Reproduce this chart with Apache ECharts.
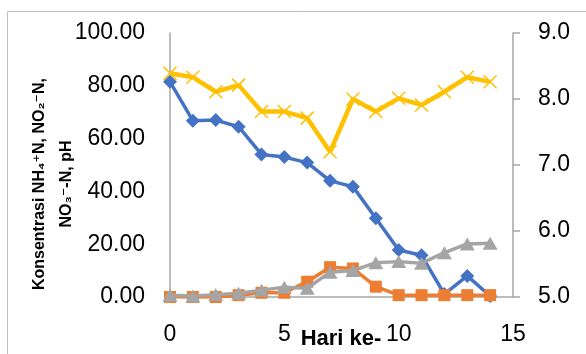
<!DOCTYPE html>
<html>
<head>
<meta charset="utf-8">
<script src="https://cdn.jsdelivr.net/npm/echarts@6/dist/echarts.min.js"></script>
<style>
html,body{margin:0;padding:0;background:#fff;}
#c{width:586px;height:354px;}
</style>
</head>
<body>
<div id="c"></div>
<script>
var days = [0, 1, 2, 3, 4, 5, 6, 7, 8, 9, 10, 11, 12, 13, 14];
var nh4 = [81.5, 66.8, 67.0, 64.5, 54.0, 53.0, 50.9, 44.0, 41.8, 29.8, 17.8, 15.8, 1.1, 8.0, 0.4];
var no2 = [0.0, 0.0, 0.0, 0.7, 1.6, 1.6, 5.8, 11.3, 10.8, 3.9, 0.7, 0.7, 0.7, 0.7, 0.7];
var no3 = [0.7, 0.4, 0.9, 1.4, 2.6, 3.7, 3.3, 9.4, 10.0, 13.0, 13.4, 12.8, 16.8, 20.1, 20.4];
var ph = [8.39, 8.33, 8.11, 8.21, 7.81, 7.81, 7.71, 7.2, 8.0, 7.81, 8.01, 7.91, 8.11, 8.33, 8.26];
var leftTicks = [0, 20, 40, 60, 80, 100];
var rightTicks = [5, 6, 7, 8, 9];
var xTicks = [0, 5, 10, 15];

function pairs(xs, ys) { return xs.map(function (x, i) { return [x, ys[i]]; }); }

var FONT = 'Liberation Sans, DejaVu Sans, sans-serif';
var chart = echarts.init(document.getElementById('c'), null, {renderer: 'canvas'});
var axisGray = '#A6A6A6';
chart.setOption({
  animation: false,
  backgroundColor: '#fff',
  grid: {left: 170, right: 73, top: 33, bottom: 57, containLabel: false, outerBoundsMode: 'none'},
  graphic: [
    {type: 'rect', shape: {x: 7.5, y: 11.5, width: 600, height: 400}, style: {fill: 'none', stroke: '#BFBFBF', lineWidth: 1}, z: -1},
    {type: 'text', x: 40, y: 184, rotation: Math.PI / 2,
     style: {text: 'Konsentrasi NH₄⁺N, NO₂⁻N,', font: 'bold 16px ' + FONT, fill: '#000', textAlign: 'center', textVerticalAlign: 'middle'}},
    {type: 'text', x: 67, y: 184, rotation: Math.PI / 2,
     style: {text: 'NO₃⁻-N, pH', font: 'bold 16px ' + FONT, fill: '#000', textAlign: 'center', textVerticalAlign: 'middle'}},
    {type: 'text', x: 341, y: 339, z: 10,
     style: {text: 'Hari ke-', font: 'bold 22px ' + FONT, fill: '#000', textAlign: 'center', textVerticalAlign: 'middle'}}
  ],
  xAxis: {
    type: 'value', min: xTicks[0], max: xTicks[xTicks.length - 1], interval: 5,
    axisLine: {lineStyle: {color: axisGray, width: 1.5}},
    axisTick: {show: false},
    splitLine: {show: false},
    axisLabel: {fontFamily: FONT, fontSize: 23, color: '#000', margin: 26}
  },
  yAxis: [
    {
      type: 'value', min: leftTicks[0], max: leftTicks[leftTicks.length - 1], interval: 20,
      axisLine: {show: true, lineStyle: {color: axisGray, width: 1.5}},
      axisTick: {show: false},
      splitLine: {show: false},
      axisLabel: {fontFamily: FONT, fontSize: 23, color: '#000', margin: 25,
        formatter: function (v) { return v.toFixed(2); }}
    },
    {
      type: 'value', position: 'right', min: rightTicks[0], max: rightTicks[rightTicks.length - 1], interval: 1,
      axisLine: {show: true, lineStyle: {color: axisGray, width: 1.5}},
      axisTick: {show: true, inside: false, length: 7, lineStyle: {color: axisGray, width: 1.5}},
      splitLine: {show: false},
      axisLabel: {fontFamily: FONT, fontSize: 23, color: '#000', margin: 25,
        formatter: function (v) { return v.toFixed(1); }}
    }
  ],
  series: [
    {type: 'line', name: 'NH4', yAxisIndex: 0, data: pairs(days, nh4),
     symbol: 'diamond', symbolSize: 14, lineStyle: {color: '#4472C4', width: 3.5},
     itemStyle: {color: '#4472C4'}, z: 2},
    {type: 'line', name: 'NO2', yAxisIndex: 0, data: pairs(days, no2),
     symbol: 'rect', symbolSize: 12, lineStyle: {color: '#ED7D31', width: 3.5},
     itemStyle: {color: '#ED7D31'}, z: 3},
    {type: 'line', name: 'NO3', yAxisIndex: 0, data: pairs(days, no3),
     symbol: 'triangle', symbolSize: [15, 13], lineStyle: {color: '#A5A5A5', width: 3.5},
     itemStyle: {color: '#A5A5A5'}, z: 4},
    {type: 'line', name: 'pH', yAxisIndex: 1, data: pairs(days, ph),
     symbol: 'path://M0,0L10,10M10,0L0,10', symbolSize: 13, symbolKeepAspect: true,
     lineStyle: {color: '#FFC000', width: 4.5},
     itemStyle: {color: 'none', borderColor: '#FFC000', borderWidth: 1.5}, z: 5}
  ]
});
</script>
</body>
</html>
